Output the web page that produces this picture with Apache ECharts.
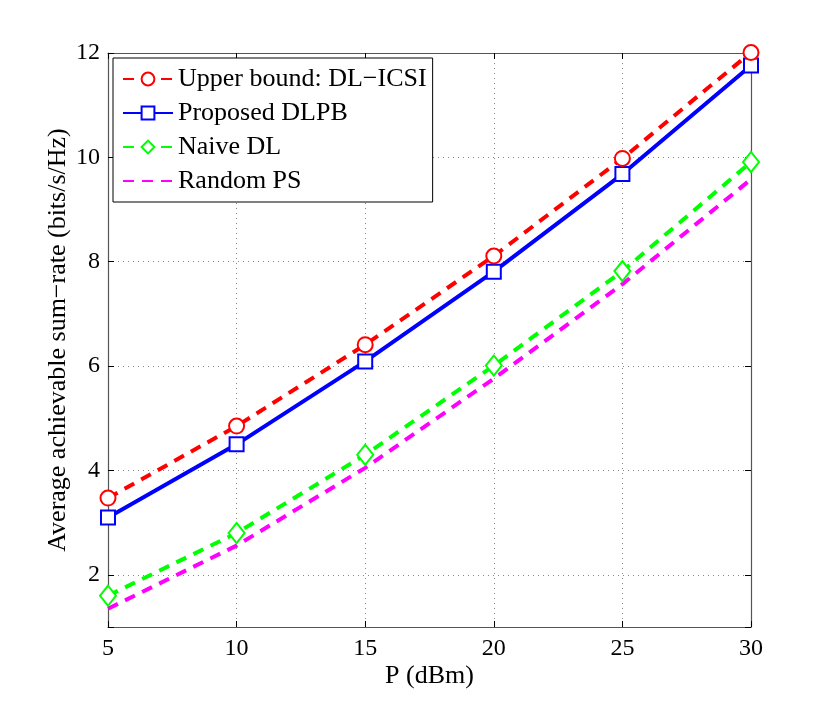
<!DOCTYPE html>
<html>
<head>
<meta charset="utf-8">
<script src="https://cdn.jsdelivr.net/npm/echarts@6/dist/echarts.min.js"></script>
<style>
  html, body { margin: 0; padding: 0; background: #fff; }
  #chart { width: 830px; height: 705px; }
</style>
</head>
<body>
<div id="chart"></div>
<script>
// power levels (dBm)
const powers = [5, 10, 15, 20, 25, 30];

// sum-rate per scheme (bits/s/Hz)
const upperBound = [3.47, 4.85, 6.41, 8.11, 9.98, 12.01];
const proposed   = [3.10, 4.50, 6.09, 7.81, 9.68, 11.76];
const naiveDL    = [1.60, 2.80, 4.30, 6.01, 7.82, 9.91];
const randomPS   = [1.35, 2.56, 4.05, 5.76, 7.57, 9.58];

const seriesNames = ['Upper bound: DL\u2212ICSI', 'Proposed DLPB', 'Naive DL', 'Random PS'];

const FONT = 'Liberation Serif';

function pairs(vals) {
    return powers.map((p, i) => [p, vals[i]]);
}

var myChart = echarts.init(document.getElementById('chart'));

const axisLineStyle = { color: '#555', width: 1.2 };
const gridLineStyle = { color: '#888', type: [1, 4], width: 1 };

const option = {
    backgroundColor: '#fff',
    animation: false,
    grid: { left: 108, right: 79, top: 53, bottom: 78 },
    legend: {
        left: 113,
        top: 58,
        orient: 'vertical',
        itemWidth: 50,
        itemHeight: 16,
        itemGap: 8,
        padding: [8, 6, 8, 9],
        backgroundColor: '#fff',
        borderColor: '#000',
        borderWidth: 1,
        textStyle: { fontFamily: FONT, fontSize: 26, color: '#000' },
        data: [
            seriesNames[0],
            seriesNames[1],
            seriesNames[2],
            { name: seriesNames[3], itemStyle: { opacity: 0 } }
        ]
    },
    xAxis: [{
        type: 'value',
        min: 5, max: 30, interval: 5,
        name: 'P (dBm)',
        nameLocation: 'middle',
        nameGap: 36,
        nameMoveOverlap: false,
        nameTextStyle: { fontFamily: FONT, fontSize: 26, color: '#000' },
        axisLine: { lineStyle: axisLineStyle },
        axisTick: { inside: true, length: 6, lineStyle: { color: '#000' } },
        axisLabel: { fontFamily: FONT, fontSize: 24, color: '#000', margin: 10 },
        splitLine: { show: true, lineStyle: gridLineStyle }
    }, {
        type: 'value',
        position: 'top',
        min: 5, max: 30, interval: 5,
        axisLine: { show: true, lineStyle: axisLineStyle },
        axisTick: { inside: true, length: 6, lineStyle: { color: '#000' } },
        axisLabel: { show: false },
        splitLine: { show: false }
    }],
    yAxis: [{
        type: 'value',
        min: 1, max: 12,
        splitNumber: 5, minInterval: 2, maxInterval: 2,
        name: 'Average achievable sum\u2212rate (bits/s/Hz)',
        nameLocation: 'middle',
        nameGap: 37,
        nameMoveOverlap: false,
        nameTextStyle: { fontFamily: FONT, fontSize: 26, color: '#000' },
        axisLine: { show: true, lineStyle: axisLineStyle },
        axisTick: { show: true, inside: true, length: 6, lineStyle: { color: '#000' } },
        axisLabel: {
            fontFamily: FONT, fontSize: 24, color: '#000', margin: 8,
            formatter: v => (v % 2 === 0 ? String(v) : '')
        },
        splitLine: { show: true, lineStyle: gridLineStyle }
    }, {
        type: 'value',
        position: 'right',
        min: 1, max: 12,
        splitNumber: 5, minInterval: 2, maxInterval: 2,
        axisLine: { show: true, lineStyle: axisLineStyle },
        axisTick: { show: true, inside: true, length: 6, lineStyle: { color: '#000' } },
        axisLabel: { show: false },
        splitLine: { show: false }
    }],
    series: [{
        name: seriesNames[0],
        type: 'line',
        data: pairs(upperBound),
        clip: false,
        symbol: 'emptyCircle',
        symbolSize: 15,
        lineStyle: { color: '#ff0000', width: 4, type: [11, 8] },
        itemStyle: { color: '#ff0000', borderWidth: 3.5 },
        z: 4
    }, {
        name: seriesNames[1],
        type: 'line',
        data: pairs(proposed),
        clip: false,
        symbol: 'emptyRect',
        symbolSize: 14,
        lineStyle: { color: '#0000ff', width: 4 },
        itemStyle: { color: '#0000ff', borderWidth: 3.5 },
        z: 3
    }, {
        name: seriesNames[2],
        type: 'line',
        data: pairs(naiveDL),
        clip: false,
        symbol: 'emptyDiamond',
        symbolSize: [16, 20],
        lineStyle: { color: '#00ff00', width: 4, type: [11, 8] },
        itemStyle: { color: '#00ff00', borderWidth: 3.5 },
        z: 3
    }, {
        name: seriesNames[3],
        type: 'line',
        data: pairs(randomPS),
        clip: false,
        symbol: 'none',
        lineStyle: { color: '#ff00ff', width: 4, type: [11, 8] },
        itemStyle: { color: '#ff00ff' },
        z: 2
    }]
};

myChart.setOption(option);

window.addEventListener('resize', function() {
    myChart.resize();
});
</script>
</body>
</html>
